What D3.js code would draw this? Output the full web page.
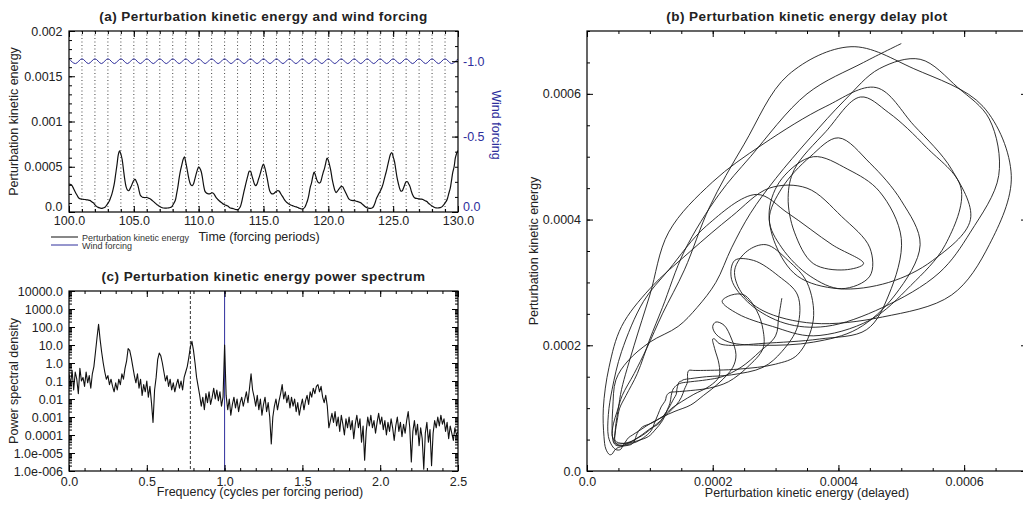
<!DOCTYPE html>
<html>
<head>
<meta charset="utf-8">
<script src="https://cdn.jsdelivr.net/npm/d3@7"></script>
<style>
body { margin: 0; background: #fff; }
svg { display: block; font-family: "Liberation Sans", Arial, sans-serif; }
</style>
</head>
<body>
<svg id="chart"></svg>
<script>
// ---- data ----
// perturbation kinetic energy, t = 100.0 .. 130.0 every 0.1 forcing periods, in units of 1e-5
const keStart = 100;
const keStep = 0.1;
const keValuesE5 = [
  31, 30.5, 30, 27.5, 24.5, 21.5, 19, 16.5, 15, 14.5,
  14.2, 14, 13.8, 13.6, 13.4, 13.2, 12.8, 12, 10.8, 9.8,
  8, 6.5, 5.5, 4.8, 4.4, 4, 4.2, 4.8, 5.6, 7.5,
  9.5, 12, 15.5, 19.5, 25, 32, 42, 52, 63, 67.5,
  64, 58, 47, 36, 28, 24.5, 23.5, 25.5, 28.5, 32,
  35, 36, 33.5, 30, 24, 18.5, 17, 16.2, 16, 16,
  16, 15.5, 15, 14.2, 13, 11.7, 10.5, 9.3, 8, 7,
  6, 5.2, 4.7, 4.4, 4.3, 4.3, 4.4, 4.6, 5, 5.5,
  7.5, 10, 13, 20, 28, 38, 46, 52, 58, 61,
  55, 48, 40, 33.5, 30, 29, 31, 36, 41.5, 46.5,
  50, 48, 44.5, 37, 28, 22.5, 21, 20.3, 20, 20.3,
  21, 21, 19.5, 17, 15, 13.5, 12.2, 11, 10, 8.8,
  8, 7.5, 7, 6, 4.7, 4.2, 4, 3.6, 3, 2.7,
  2.6, 3.5, 5.5, 10, 16.5, 23, 29, 35, 40.5, 45,
  45, 40.5, 35.5, 31, 29, 31, 35.5, 40, 45, 50,
  53, 49, 43, 36, 28, 22.6, 20.5, 20, 20.5, 21.8,
  23, 23.7, 23.2, 21, 18.5, 16.5, 14, 12, 10.5, 9.5,
  8.6, 7.8, 7.2, 6.6, 6.1, 5.7, 5.3, 4.6, 4, 3.4,
  3.4, 4, 5.5, 9, 13, 19, 27, 32, 39, 44,
  41, 36, 33, 32, 33, 38, 43.5, 48, 54, 59.5,
  57, 51.5, 45, 36, 29.5, 24, 21.5, 23, 25, 27,
  28, 28, 25.5, 22.5, 19.5, 16.5, 14.2, 13.2, 12.8, 12.6,
  12.5, 12.2, 11.8, 11.3, 10.8, 10.2, 9, 7.8, 6.4, 5.3,
  4.6, 4.2, 4, 4.1, 4.6, 6.5, 10, 14.5, 17.5, 20.5,
  23, 26, 30, 35.5, 41, 46.5, 53, 59, 64, 65.5,
  61, 56, 47, 38, 31.5, 26, 23, 23.5, 26.5, 30.5,
  33.5, 33.5, 31, 28, 23, 19, 16.5, 15.3, 15, 14.7,
  14.5, 14.3, 14.2, 13.8, 13, 12.2, 11.5, 10, 8.8, 7.6,
  6.7, 5.8, 5, 4.5, 4.4, 4.5, 4.8, 5.2, 6.2, 8,
  10, 12, 15.5, 21, 26, 35, 44, 50, 60, 65,
  68
];
const keValues = keValuesE5.map(v => v * 1e-5);

// wind forcing, t = 100.0 .. 130.0 every half forcing period
const windStart = 100;
const windStep = 0.5;
const windValues = [
  -1.016, -0.984, -1.016, -0.984, -1.016, -0.984, -1.016, -0.984, -1.016, -0.984,
  -1.016, -0.984, -1.016, -0.984, -1.016, -0.984, -1.016, -0.984, -1.016, -0.984,
  -1.016, -0.984, -1.016, -0.984, -1.016, -0.984, -1.016, -0.984, -1.016, -0.984,
  -1.016, -0.984, -1.016, -0.984, -1.016, -0.984, -1.016, -0.984, -1.016, -0.984,
  -1.016, -0.984, -1.016, -0.984, -1.016, -0.984, -1.016, -0.984, -1.016, -0.984,
  -1.016, -0.984, -1.016, -0.984, -1.016, -0.984, -1.016, -0.984, -1.016, -0.984,
  -1.016
];
const forcingLines = [101, 102, 103, 104, 105, 106, 107, 108, 109, 110, 111, 112, 113, 114, 115,
  116, 117, 118, 119, 120, 121, 122, 123, 124, 125, 126, 127, 128, 129];

// delay used for panel (b), in samples of keStep
const delaySamples = 3;

// power spectrum, log10(PSD), f = 0.00 .. 2.50 every 0.01
const specStep = 0.01;
const specLog10 = [
  -0.6, -1.2, -0.4, -1.5, -0.5, -0.9, -1.7, -0.3, -1.0, -0.8,
  -1.3, -0.5, -1.1, -0.7, -1.4, -0.6, -0.2, 0.6, 1.4, 2.15,
  1.3, 0.6, 0.0, -0.5, -0.9, -0.7, -1.2, -0.9, -1.3, -1.6,
  -1.1, -1.5, -0.9, -1.2, -0.6, -0.9, -0.3, 0.1, 0.8, 0.7,
  0.3, -0.2, -0.7, -1.1, -0.6, -1.4, -0.9, -1.8, -1.2, -1.6,
  -1.0, -1.9, -1.3, -2.2, -3.3, -1.5, -0.8, 0.2, 0.55, 0.4,
  0.0, -0.5, -1.0, -0.7, -1.3, -0.9, -1.5, -1.1, -1.6, -1.2,
  -0.9, -1.4, -1.0, -1.5, -0.8, -0.5, -0.2, 0.3, 0.9, 1.2,
  0.7, 0.0, -0.8, -1.3, -1.8, -2.4, -1.9, -2.6, -1.7, -2.2,
  -1.6, -2.3, -1.9, -1.4, -2.0, -1.5, -2.1, -1.6, -2.4, -1.9,
  1.0,
  -1.8, -2.6, -2.0, -2.9, -2.3, -1.9, -2.5, -2.0, -2.7,
  -2.2, -1.9, -2.4, -2.0, -1.6, -2.2, -1.4, -0.6, -1.5, -1.9,
  -2.4, -1.8, -2.6, -2.0, -2.9, -2.3, -1.9, -2.7, -2.2, -3.0,
  -4.5, -3.0, -2.4, -2.0, -2.6, -2.1, -1.7, -1.2, -2.0, -1.6,
  -2.2, -1.8, -2.5, -1.9, -2.4, -2.0, -2.7, -2.2, -2.9, -2.4,
  -2.0, -2.6, -2.1, -1.8, -2.3, -1.6, -1.9, -1.4, -1.7, -1.3,
  -1.2, -1.6, -1.3, -1.9, -2.2, -1.8, -2.4, -3.6, -3.2, -2.8,
  -3.3, -2.7, -3.5, -3.0, -3.8, -2.9, -3.4, -4.0, -3.1, -3.6,
  -3.0, -3.7, -3.2, -4.2, -3.4, -2.9, -3.6, -3.1, -4.4, -3.5,
  -5.4, -3.8, -3.0, -3.5, -2.9, -3.6, -3.2, -3.9, -3.3, -2.8,
  -3.4, -3.0, -3.7, -3.2, -4.0, -3.3, -3.8, -3.1, -3.6, -4.3,
  -3.5, -3.0, -3.8, -3.3, -4.1, -3.4, -3.9, -3.2, -2.7, -3.6,
  -5.5, -3.8, -3.2, -4.0, -3.4, -4.6, -3.6, -4.2, -5.9, -3.9,
  -3.3, -4.4, -3.7, -5.7, -3.9, -3.2, -3.6, -3.0, -3.5, -2.9,
  -3.4, -3.1, -3.8, -3.3, -4.2, -3.5, -3.9, -4.3, -3.6, -4.0,
  -3.8
];
const dashedFreq = 0.78;
const forcingFreq = 1.0;

// ticks
const aTimeMajor = [100, 105, 110, 115, 120, 125, 130];
const aTimeLabels = ["100.0", "105.0", "110.0", "115.0", "120.0", "125.0", "130.0"];
const aKeMajor = [0, 0.0005, 0.001, 0.0015, 0.002];
const aKeLabels = ["0.0", "0.0005", "0.001", "0.0015", "0.002"];
const aWindMajor = [0, -0.5, -1.0];
const aWindLabels = ["0.0", "-0.5", "-1.0"];
const bMajor = [0, 0.0002, 0.0004, 0.0006];
const bLabels = ["0.0", "0.0002", "0.0004", "0.0006"];
const cFreqMajor = [0, 0.5, 1.0, 1.5, 2.0, 2.5];
const cFreqLabels = ["0.0", "0.5", "1.0", "1.5", "2.0", "2.5"];
const cPsdMajor = [1e-6, 1e-5, 1e-4, 1e-3, 1e-2, 1e-1, 1, 10, 100, 1000, 10000];
const cPsdLabels = ["1.0e-006", "1.0e-005", "0.0001", "0.001", "0.01", "0.1", "1.0", "10.0", "100.0", "1000.0", "10000.0"];

// ---- layout ----
const W = 1023, H = 505;
const blue = "#2e2e9c";
const boxA = {left: 69, right: 458, top: 31, bottom: 212};
const boxB = {left: 587, right: 1027, top: 31, bottom: 471};
const boxC = {left: 69, right: 458, top: 291, bottom: 471};

const svg = d3.select("#chart").attr("width", W).attr("height", H);
svg.append("rect").attr("width", W).attr("height", H).attr("fill", "#fff");

function ticks(make, scale, x, y, values, size, labels, pad, color) {
    const ax = make(scale)
        .tickValues(values)
        .tickSizeInner(-size)
        .tickSizeOuter(0)
        .tickPadding(pad || 0)
        .tickFormat(labels ? (d, i) => labels[i] : "");
    const g = svg.append("g")
        .attr("transform", `translate(${x}, ${y})`)
        .call(ax)
        .attr("font-family", null)
        .attr("font-size", 12.5);
    g.select(".domain").remove();
    g.selectAll("line").attr("stroke", "#000");
    g.selectAll("text").attr("fill", color || "#222");
    return g;
}

function frame(box) {
    svg.append("rect")
        .attr("x", box.left).attr("y", box.top)
        .attr("width", box.right - box.left).attr("height", box.bottom - box.top)
        .attr("fill", "none").attr("stroke", "#000").attr("stroke-width", 1.2);
}

function clip(id, box) {
    svg.append("clipPath").attr("id", id).append("rect")
        .attr("x", box.left).attr("y", box.top)
        .attr("width", box.right - box.left).attr("height", box.bottom - box.top);
}

function title(text, x, y) {
    svg.append("text").attr("x", x).attr("y", y)
        .attr("text-anchor", "middle").attr("font-size", 13.5).attr("font-weight", "bold")
        .attr("letter-spacing", 0.45)
        .attr("fill", "#222").text(text);
}

function label(text, x, y, rot, color) {
    svg.append("text")
        .attr("transform", `translate(${x}, ${y}) rotate(${rot || 0})`)
        .attr("text-anchor", "middle").attr("font-size", 12.5)
        .attr("fill", color || "#222").text(text);
}

// ---- panel (a) ----
const aX = d3.scaleLinear().domain([100, 130]).range([boxA.left, boxA.right]);
const aY = d3.scaleLinear().domain([0, 0.002]).range([boxA.bottom, boxA.top]);
const aW = d3.scaleLinear().domain([0, -1.2]).range([boxA.bottom, boxA.top]);
clip("clipA", boxA);

svg.append("g").selectAll("line")
    .data(forcingLines)
    .join("line")
    .attr("x1", d => aX(d)).attr("x2", d => aX(d))
    .attr("y1", boxA.top).attr("y2", boxA.bottom)
    .attr("stroke", "#444").attr("stroke-width", 1)
    .attr("stroke-dasharray", "1,2.5");

const keData = keValues.map((v, i) => [keStart + i * keStep, v]);
svg.append("path")
    .attr("clip-path", "url(#clipA)")
    .attr("d", d3.line().curve(d3.curveCatmullRom).x(d => aX(d[0])).y(d => aY(d[1]))(keData))
    .attr("fill", "none").attr("stroke", "#111").attr("stroke-width", 1.2);

const windData = windValues.map((v, i) => [windStart + i * windStep, v]);
svg.append("path")
    .attr("clip-path", "url(#clipA)")
    .attr("d", d3.line().curve(d3.curveMonotoneX).x(d => aX(d[0])).y(d => aW(d[1]))(windData))
    .attr("fill", "none").attr("stroke", blue).attr("stroke-width", 1);

ticks(d3.axisBottom, aX, 0, boxA.bottom, aTimeMajor, 6, aTimeLabels, 4.5);
ticks(d3.axisBottom, aX, 0, boxA.bottom, d3.range(100, 131), 3);
ticks(d3.axisTop, aX, 0, boxA.top, aTimeMajor, 6);
ticks(d3.axisTop, aX, 0, boxA.top, d3.range(100, 131), 3);
const aLeft = ticks(d3.axisLeft, aY, boxA.left, 0, aKeMajor, 6, aKeLabels, 6.5);
ticks(d3.axisLeft, aY, boxA.left, 0, d3.range(0, 21).map(d => d * 0.0001), 3);
const aRight = ticks(d3.axisRight, aW, boxA.right, 0, aWindMajor, 6, aWindLabels, 5, blue);
ticks(d3.axisRight, aW, boxA.right, 0, d3.range(0, 13).map(d => -d * 0.1), 3);
// lift the two bottom "0.0" labels off the time labels
aLeft.selectAll("text").filter(d => d === 0).attr("y", -5.5);
aRight.selectAll("text").filter(d => d === 0).attr("y", -5.5);
frame(boxA);

title("(a) Perturbation kinetic energy and wind forcing", (boxA.left + boxA.right) / 2, 21);
label("Time (forcing periods)", 259, 241);
label("Perturbation kinetic energy", 18, (boxA.top + boxA.bottom) / 2, -90);
label("Wind forcing", 492, 125, 90, blue);

// legend
const legend = svg.append("g").attr("font-size", 9);
[["Perturbation kinetic energy", "#111"], ["Wind forcing", blue]].forEach((d, i) => {
    legend.append("line")
        .attr("x1", 51).attr("x2", 78).attr("y1", 237 + i * 8).attr("y2", 237 + i * 8)
        .attr("stroke", d[1]).attr("stroke-width", 1);
    legend.append("text").attr("x", 82).attr("y", 240.5 + i * 8)
        .attr("fill", "#333").text(d[0]);
});

// ---- panel (c) ----
const cX = d3.scaleLinear().domain([0, 2.5]).range([boxC.left, boxC.right]);
const cY = d3.scaleLog().domain([1e-6, 1e4]).range([boxC.bottom, boxC.top]);
clip("clipC", boxC);

svg.append("line")
    .attr("x1", cX(forcingFreq)).attr("x2", cX(forcingFreq))
    .attr("y1", boxC.top).attr("y2", boxC.bottom)
    .attr("stroke", blue).attr("stroke-width", 1);
svg.append("line")
    .attr("x1", cX(dashedFreq)).attr("x2", cX(dashedFreq))
    .attr("y1", boxC.top).attr("y2", boxC.bottom)
    .attr("stroke", "#333").attr("stroke-width", 1)
    .attr("stroke-dasharray", "3,2");

const specData = specLog10.map((v, i) => [i * specStep, Math.pow(10, v)]);
svg.append("path")
    .attr("clip-path", "url(#clipC)")
    .attr("d", d3.line().x(d => cX(d[0])).y(d => cY(d[1]))(specData))
    .attr("fill", "none").attr("stroke", "#111").attr("stroke-width", 1.1)
    .attr("stroke-linejoin", "round");

const cMinorF = d3.range(0, 26).map(d => d * 0.1);
const cMinorP = [];
cPsdMajor.slice(0, -1).forEach(p => { for (let k = 2; k < 10; k++) cMinorP.push(p * k); });
ticks(d3.axisBottom, cX, 0, boxC.bottom, cFreqMajor, 6, cFreqLabels, 6);
ticks(d3.axisBottom, cX, 0, boxC.bottom, cMinorF, 3);
ticks(d3.axisTop, cX, 0, boxC.top, cFreqMajor, 6);
ticks(d3.axisTop, cX, 0, boxC.top, cMinorF, 3);
ticks(d3.axisLeft, cY, boxC.left, 0, cPsdMajor, 6, cPsdLabels, 6);
ticks(d3.axisLeft, cY, boxC.left, 0, cMinorP, 3);
ticks(d3.axisRight, cY, boxC.right, 0, cPsdMajor, 6);
ticks(d3.axisRight, cY, boxC.right, 0, cMinorP, 3);
frame(boxC);

title("(c) Perturbation kinetic energy power spectrum", (boxC.left + boxC.right) / 2, 281);
label("Frequency (cycles per forcing period)", 260, 496);
label("Power spectral density", 18, (boxC.top + boxC.bottom) / 2, -90);

// ---- panel (b) ----
const bX = d3.scaleLinear().domain([0, 0.0007]).range([boxB.left, boxB.right]);
const bY = d3.scaleLinear().domain([0, 0.0007]).range([boxB.bottom, boxB.top]);
clip("clipB", boxB);

const delayData = keValues.slice(delaySamples).map((v, i) => [keValues[i], v]);
svg.append("path")
    .attr("clip-path", "url(#clipB)")
    .attr("d", d3.line().curve(d3.curveCatmullRom).x(d => bX(d[0])).y(d => bY(d[1]))(delayData))
    .attr("fill", "none").attr("stroke", "#1a1a1a").attr("stroke-width", 0.9);

const bMinor = d3.range(0, 15).map(d => d * 0.00005);
ticks(d3.axisBottom, bX, 0, boxB.bottom, bMajor, 6, bLabels, 6);
ticks(d3.axisBottom, bX, 0, boxB.bottom, bMinor, 3);
ticks(d3.axisTop, bX, 0, boxB.top, bMajor, 6);
ticks(d3.axisTop, bX, 0, boxB.top, bMinor, 3);
ticks(d3.axisLeft, bY, boxB.left, 0, bMajor, 6, bLabels, 6);
ticks(d3.axisLeft, bY, boxB.left, 0, bMinor, 3);
ticks(d3.axisRight, bY, boxB.right, 0, bMajor, 6);
ticks(d3.axisRight, bY, boxB.right, 0, bMinor, 3);
frame(boxB);

title("(b) Perturbation kinetic energy delay plot", (boxB.left + boxB.right) / 2, 21);
label("Perturbation kinetic energy (delayed)", (boxB.left + boxB.right) / 2, 497);
label("Perturbation kinetic energy", 538, (boxB.top + boxB.bottom) / 2, -90);
</script>
</body>
</html>
